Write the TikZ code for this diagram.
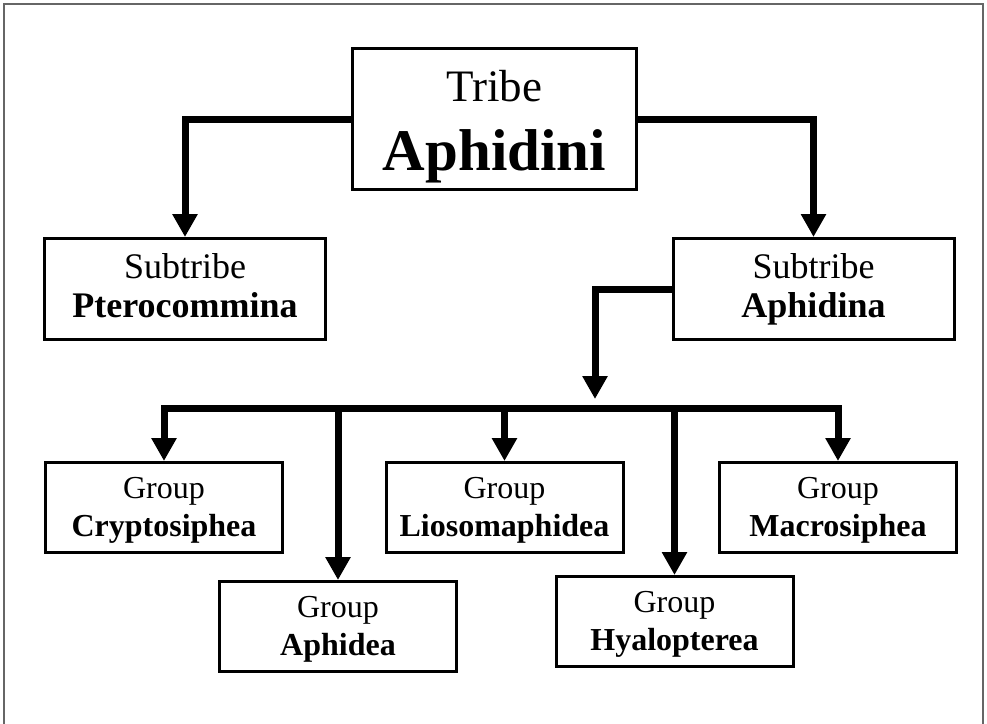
\documentclass[tikz,border=0pt]{standalone}
\usepackage{fontspec}
\setmainfont{Liberation Serif}
\usetikzlibrary{arrows.meta}

% fixed-height first lines and fixed-depth last lines keep the baselines
% in the same place whatever letters a label has
\newcommand{\toprow}[1]{\rule{0pt}{#1}}
\newcommand{\botrow}[1]{\rule[-#1]{0pt}{#1}}

\tikzset{
  taxbox/.style={draw=black, line width=3pt, fill=white, inner sep=0pt,
    align=center, anchor=center},
  groupbox/.style={taxbox, minimum width=237pt, minimum height=90pt,
    font=\fontsize{32}{38}\selectfont},
  subbox/.style={taxbox, minimum width=281pt, minimum height=101pt,
    font=\fontsize{36}{39}\selectfont},
  tribebox/.style={taxbox, minimum width=284pt, minimum height=141pt,
    font=\fontsize{45}{69}\selectfont},
  link/.style={line width=7pt, draw=black},
  arr/.style={link, -{Triangle[width=24pt,length=23pt]}},
  frame/.style={draw=black!60, line width=1.5pt}
}

\newcommand{\grouplabel}[1]{\toprow{30pt}Group\\\botrow{10pt}\textbf{#1}}
\newcommand{\sublabel}[1]{\toprow{34pt}Subtribe\\\botrow{17pt}\textbf{#1}}

\begin{document}
\begin{tikzpicture}[x=1pt, y=-1pt]
  \useasboundingbox (0,0) rectangle (987,723);
  % outer frame (open at the bottom edge of the page)
  \draw[frame] (4,730) -- (4,4) -- (983,4) -- (983,730);

  % tribe
  \node[tribebox] (tribe) at (494.5,119)
    {\toprow{48pt}Tribe\\\botrow{15pt}{\fontsize{59}{69}\selectfont\bfseries Aphidini}};

  % subtribes
  \node[subbox] (ptero) at (185,289) {\sublabel{Pterocommina}};
  \node[subbox] (aphna) at (813.5,289) {\sublabel{Aphidina}};

  % groups
  \node[groupbox] (crypto) at (164,507.5) {\grouplabel{Cryptosiphea}};
  \node[groupbox] (aphidea) at (338,626.5) {\grouplabel{Aphidea}};
  \node[groupbox] (lioso) at (504.5,507.5) {\grouplabel{Liosomaphidea}};
  \node[groupbox] (hyalo) at (674.5,621.5) {\grouplabel{Hyalopterea}};
  \node[groupbox] (macro) at (838,507.5) {\grouplabel{Macrosiphea}};

  % tribe to subtribes
  \draw[arr] (tribe.west) -| (ptero.north);
  \draw[arr] (tribe.east) -| (aphna.north);

  % subtribe Aphidina to the group bus
  \coordinate (hub) at (595,399);
  \coordinate (bus) at (595,408);
  \draw[arr] (aphna.west) -| (hub);

  % bus line and drops to the groups
  \draw[link, line cap=rect] (crypto.north |- bus) -- (macro.north |- bus);
  \draw[arr] (crypto.north |- bus) -- (crypto.north);
  \draw[arr] (aphidea.north |- bus) -- (aphidea.north);
  \draw[arr] (lioso.north |- bus) -- (lioso.north);
  \draw[arr] (hyalo.north |- bus) -- (hyalo.north);
  \draw[arr] (macro.north |- bus) -- (macro.north);
\end{tikzpicture}
\end{document}
